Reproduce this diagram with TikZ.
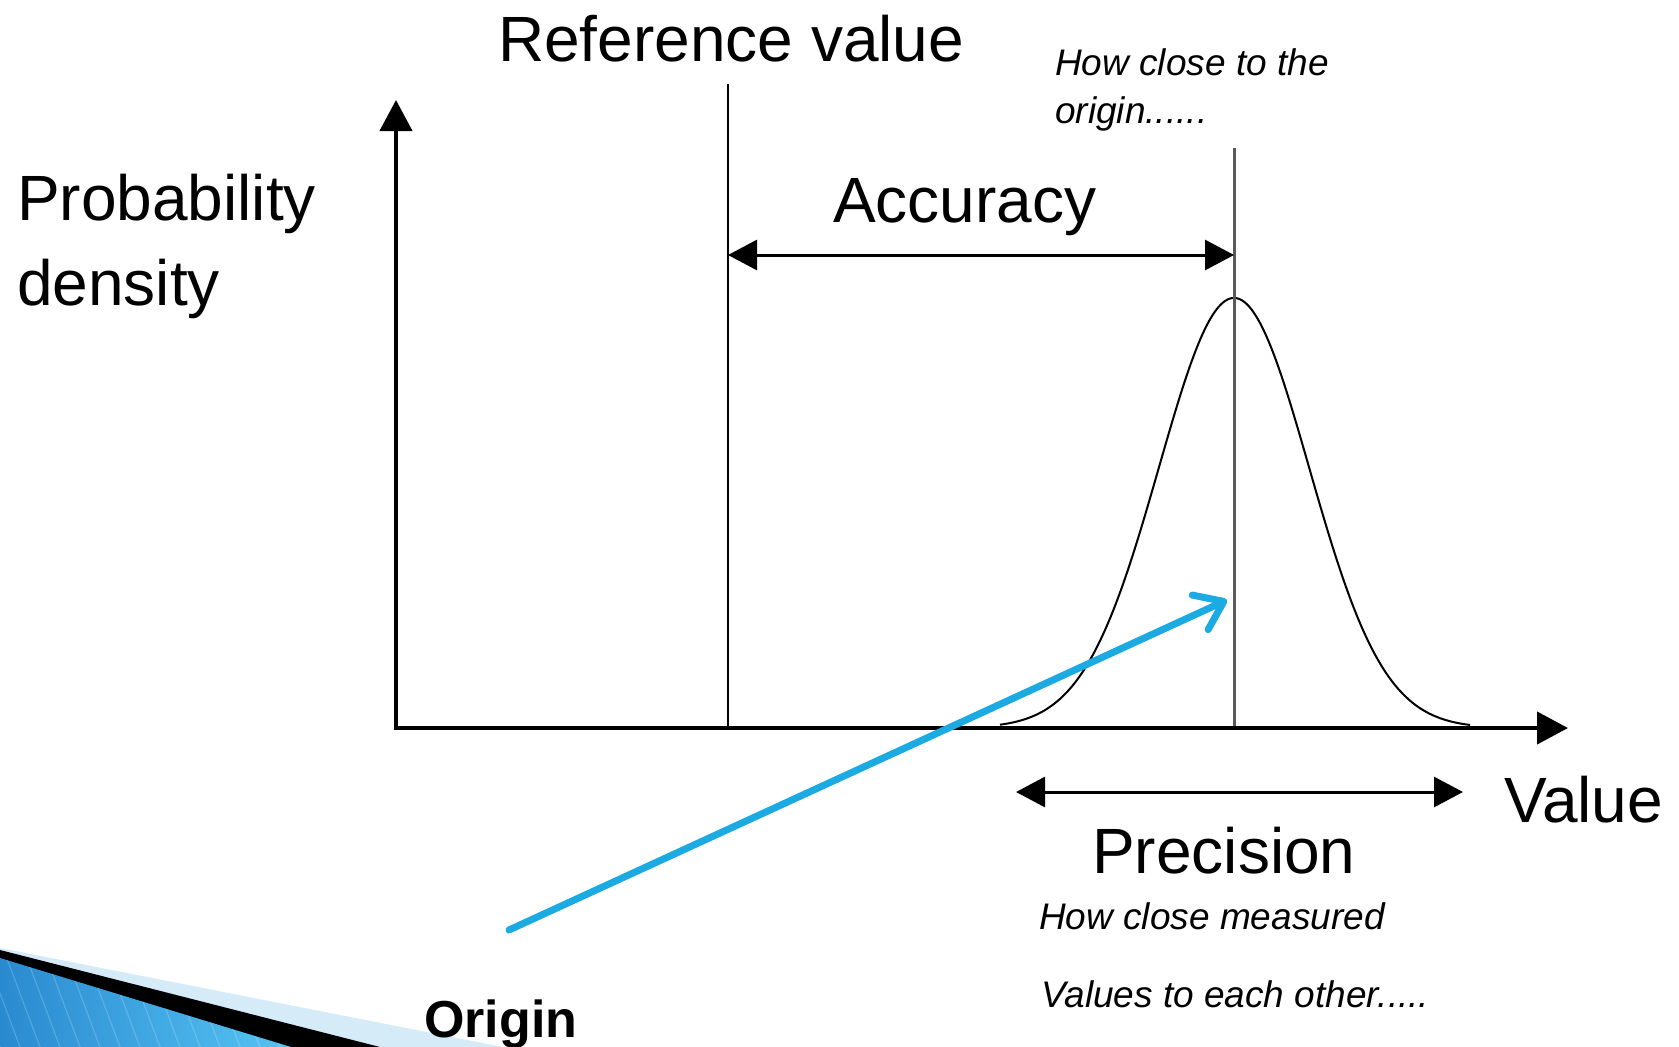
\documentclass[tikz,border=0pt]{standalone}
\usepackage{fontspec}
\setmainfont{Liberation Sans}
\usetikzlibrary{arrows.meta}
\definecolor{arrowblue}{HTML}{1CAAE2}
\definecolor{meangray}{HTML}{5A5A5A}
\definecolor{paleblue}{HTML}{D6EBF8}
\definecolor{darkblue}{HTML}{2A8AD0}
\definecolor{lightblue}{HTML}{55C3F3}
\begin{document}
\begin{tikzpicture}[x=1pt,y=-1pt,
  big/.style={font=\fontsize{64}{72}\selectfont, inner sep=0pt, anchor=base west},
  note/.style={font=\fontsize{37}{44}\selectfont\itshape, inner sep=0pt, anchor=base west},
  axis/.style={line width=4.2pt, -{Triangle[length=31pt,width=32pt]}},
  dimarrow/.style={line width=3pt, {Triangle[length=29pt,width=30pt]}-{Triangle[length=29pt,width=30pt]}},
  refline/.style={line width=2.6pt},
  meanline/.style={line width=3pt, draw=meangray},
  pointer/.style={line width=7pt, draw=arrowblue, line cap=round,
    -{Straight Barb[length=26pt,width=38pt,line cap=round,line join=round]}}
]
\useasboundingbox (0,0) rectangle (1679,1047);

% bottom-left decoration
\fill[paleblue] (0,948) -- (503,1047) -- (0,1047) -- cycle;
\fill[black] (0,950) -- (380,1047) -- (0,1047) -- cycle;
\shade[left color=darkblue, right color=lightblue] (0,958) -- (291,1047) -- (0,1047) -- cycle;
\begin{scope}
  \clip (0,958) -- (291,1047) -- (0,1047) -- cycle;
  \foreach \i in {-60,-40,...,300}
    \draw[white, opacity=0.18, line width=1.2pt] (\i,940) -- (\i+40,1047);
\end{scope}

% key points
\coordinate (O) at (396,728);
\coordinate (Ytop) at (396,100);
\coordinate (Xend) at (1568,728);
\coordinate (Rtop) at (728,84);
\coordinate (Rbot) at (728,728);
\coordinate (Mtop) at (1234,148);
\coordinate (Mbot) at (1234,728);
\coordinate (AccL) at (728,255);
\coordinate (AccR) at (1234,255);
\coordinate (PrecL) at (1016,792);
\coordinate (PrecR) at (1463,792);
\coordinate (Pstart) at (509,930);
\coordinate (Ptip) at (1227,600);

% gaussian
\draw[line width=2pt, domain=1000:1470, samples=220, smooth]
  plot (\x, {728 - 430*exp(-0.5*((\x-1234)/75)^2)});

% lines
\draw[refline] (Rtop) -- (Rbot);
\draw[meanline] (Mtop) -- (Mbot);
\draw[axis] (O) -- (Ytop);
\draw[axis] ([xshift=-2.1pt]O) -- (Xend);
\draw[dimarrow] (AccL) -- (AccR);
\draw[dimarrow] (PrecL) -- (PrecR);
\draw[pointer] (Pstart) -- (Ptip);

% labels
\node[big] (refval) at (498,61) {Reference value};
\node[big] (acc) at (833,222) {Accuracy};
\node[big] (prob) at (17,220) {Probability};
\node[big] (dens) at (17,305) {density};
\node[big] (val) at (1504,822) {Value};
\node[big] (prec) at (1092,873) {Precision};
\node[note] (n1) at (1055,75) {How close to the};
\node[note] (n2) at (1055,123) {origin......};
\node[note] (n3) at (1039,929) {How close measured};
\node[note] (n4) at (1041,1007) {Values to each other.....};
\node[inner sep=0pt, anchor=base west, font=\fontsize{52}{60}\selectfont\bfseries] (orig) at (424,1037) {Origin};
\end{tikzpicture}
\end{document}
